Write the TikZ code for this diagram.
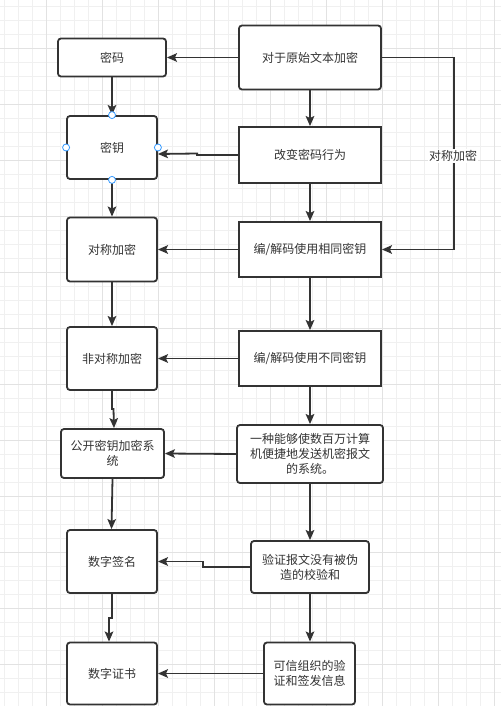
\documentclass[tikz,border=0pt]{standalone}
\usepackage{fontspec}
\newfontfamily\cjk{Noto Sans CJK SC}
\usetikzlibrary{arrows.meta,calc}
\definecolor{ln}{HTML}{333333}
\definecolor{gridA}{HTML}{F0F0F0}
\definecolor{gridB}{HTML}{E2E2E2}
\definecolor{hand}{HTML}{3399FF}
\begin{document}
\begin{tikzpicture}[x=1pt,y=-1pt,
  box/.style={draw=ln, line width=1.8pt, fill=white, align=center,
    font=\cjk\fontsize{12}{15}\selectfont, text=ln, inner sep=2pt},
  rbox/.style={box, rounded corners=3pt},
  conn/.style={draw=ln, line width=1.8pt, -{Stealth[length=10pt,width=8.5pt,inset=2pt]}},
  handle/.style={circle, draw=hand, fill=white, line width=0.8pt, minimum size=7pt, inner sep=0pt},
  lbl/.style={fill=white, font=\cjk\fontsize{12}{15}\selectfont, text=ln, inner sep=1pt}]
\useasboundingbox (0,0) rectangle (501,706);
\fill[white] (0,0) rectangle (501,706);
% grid
\foreach \i in {0,...,35} {\pgfmathsetmacro\xx{4.3+14*\i}\draw[gridA, line width=1pt] (\xx,0) -- (\xx,706);}
\foreach \i in {0,...,49} {\pgfmathsetmacro\yy{6.3+14*\i}\draw[gridA, line width=1pt] (0,\yy) -- (501,\yy);}
\foreach \i in {0,...,8} {\pgfmathsetmacro\xx{46.3+56*\i}\draw[gridB, line width=1pt] (\xx,0) -- (\xx,706);}
\foreach \i in {0,...,11} {\pgfmathsetmacro\yy{48.3+56*\i}\draw[gridB, line width=1pt] (0,\yy) -- (501,\yy);}

% left column
\node[rbox, minimum width=108pt, minimum height=38pt] (mima) at (112,57.5) {密码};
\node[rbox, minimum width=90pt, minimum height=63pt] (miyao) at (112,147.5) {密钥};
\node[rbox, minimum width=90pt, minimum height=64pt] (duichen) at (112,249.5) {对称加密};
\node[rbox, minimum width=90pt, minimum height=63pt] (fei) at (112,358.5) {非对称加密};
\node[rbox, minimum width=103pt, minimum height=49pt] (gongkai) at (112.5,453.5) {公开密钥加密系\\统};
\node[rbox, minimum width=90pt, minimum height=63pt] (qianming) at (112,561.5) {数字签名};
\node[rbox, minimum width=90pt, minimum height=62pt] (zhengshu) at (112,673.5) {数字证书};

% right column
\node[rbox, minimum width=142pt, minimum height=64pt] (yuanshi) at (310,57.5) {对于原始文本加密};
\node[box, minimum width=142pt, minimum height=56pt] (gaibian) at (310,155) {改变密码行为};
\node[box, minimum width=142pt, minimum height=55pt] (xiangtong) at (310,249.5) {编/解码使用相同密钥};
\node[box, minimum width=142pt, minimum height=55pt] (butong) at (310,358.5) {编/解码使用不同密钥};
\node[rbox, minimum width=146pt, minimum height=58pt] (yizhong) at (310,454) {一种能够使数百万计算\\机便捷地发送机密报文\\的系统。};
\node[rbox, minimum width=118pt, minimum height=52pt] (yanzheng) at (310,567) {验证报文没有被伪\\造的校验和};
\node[rbox, minimum width=91pt, minimum height=62pt] (kexin) at (309.5,673.5) {可信组织的验\\证和签发信息};

% connectors
\draw[conn] (yuanshi.west) -- (mima.east);
\draw[conn] (yuanshi.south) -- (gaibian.north);
\draw[conn] (yuanshi.east) -- ++(72,0) |- (xiangtong.east);
\node[lbl] (lab) at (453,156) {对称加密};
\draw[conn] (gaibian.west) -- ++(-41,0) -- ++(0,-1.5) -- ([yshift=-6.5pt]miyao.east);
\draw[conn] (gaibian.south) -- (xiangtong.north);
\draw[conn] (mima.south) -- (miyao.north);
\draw[conn] (miyao.south) -- (duichen.north);
\draw[conn] (xiangtong.west) -- (duichen.east);
\draw[conn] (duichen.south) -- (fei.north);
\draw[conn] (xiangtong.south) -- (butong.north);
\draw[conn] (butong.west) -- (fei.east);
\draw[conn] (fei.south) -- ++(0,18) -- ++(1.5,0) -- ([xshift=1.5pt]gongkai.north);
\draw[conn] (butong.south) -- (yizhong.north);
\draw[conn] (yizhong.west) -- (gongkai.east);
\draw[conn] (gongkai.south) -- ([xshift=-0.5pt]qianming.north);
\draw[conn] (yizhong.south) -- (yanzheng.north);
\draw[conn] (yanzheng.west) -- ++(-47,0) -- ++(0,-5.5) -- (qianming.east);
\draw[conn] (qianming.south) -- ++(0,24) -- ++(-3,0) -- ([xshift=-3pt]zhengshu.north);
\draw[conn] (yanzheng.south) -- ([xshift=0.5pt]kexin.north);
\draw[conn] (kexin.west) -- (zhengshu.east);

% selection handles on 密钥
\node[handle] (hn) at (miyao.north) {};
\node[handle] (hs) at (miyao.south) {};
\node[handle] (hw) at (miyao.west) {};
\node[handle] (he) at (miyao.east) {};
\end{tikzpicture}
\end{document}
